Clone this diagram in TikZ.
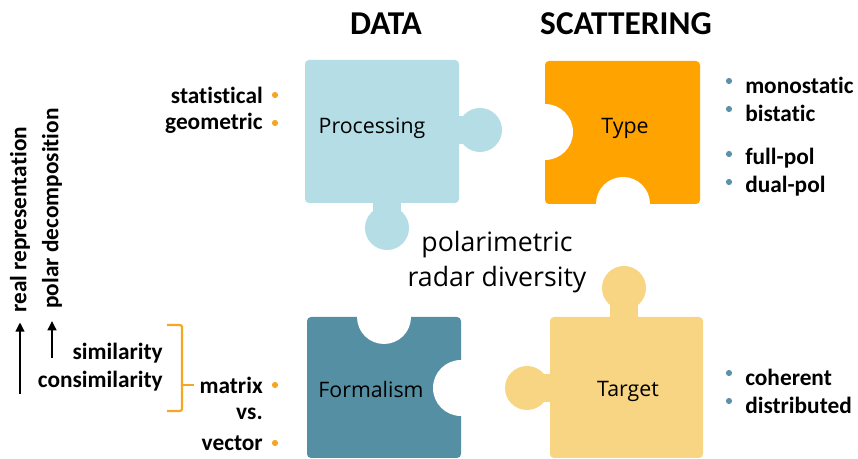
\documentclass[tikz,border=0pt]{standalone}
\usepackage{fontspec}
\setmainfont{Carlito}[Ligatures=NoCommon]
\newfontfamily\segoe{Open Sans}
\usepackage{xcolor}
\usetikzlibrary{arrows.meta}
\definecolor{procblue}{HTML}{B4DDE5}
\definecolor{typeorange}{HTML}{FFA300}
\definecolor{formteal}{HTML}{558FA3}
\definecolor{targetyellow}{HTML}{F7D582}
\definecolor{dotorange}{HTML}{F5A623}
\definecolor{dotteal}{HTML}{5A93A8}
\tikzset{
  lab/.style={font=\bfseries\fontsize{17.5}{20}\selectfont,inner sep=0pt},
  piecelab/.style={font=\segoe\fontsize{16}{19}\selectfont,inner sep=0pt},
  head/.style={font=\bfseries\fontsize{25}{29}\selectfont,inner sep=0pt},
  uparrow/.style={line width=2pt,-{Triangle[length=7pt,width=6.5pt]}},
  brack/.style={draw=dotorange,line width=1.6pt,rounded corners=1.5pt}
}

\begin{document}
\begin{tikzpicture}[x=0.75pt,y=-0.75pt]
\useasboundingbox (0,0) rectangle (858,459);
\fill[procblue,rounded corners=3pt] (305,60) rectangle (459,203);
\foreach \cx/\cy in {480/130,387/228} {\fill[procblue] (\cx,\cy) circle[radius=22];}
\fill[procblue] (452,116) rectangle (470,144);
\fill[procblue] (373,198) rectangle (401,215);
\fill[typeorange,rounded corners=3pt] (545,61) rectangle (700,204);
\fill[white] (545,132) circle[radius=28];
\fill[white] (623,204) circle[radius=27];
\fill[formteal,rounded corners=3pt] (307,317) rectangle (461,458);
\fill[white] (384,317) circle[radius=27];
\fill[white] (461,388) circle[radius=28];
\fill[targetyellow,rounded corners=3pt] (550,317) rectangle (703,458);
\foreach \cx/\cy in {624/288,527/388} {\fill[targetyellow] (\cx,\cy) circle[radius=22];}
\fill[targetyellow] (610,300) rectangle (638,322);
\fill[targetyellow] (535,374) rectangle (555,402);
\node[piecelab] (proc) at (372,128) {Processing};
\node[piecelab] (type) at (625,128) {Type};
\node[piecelab] (form) at (371,390) {Formalism};
\node[piecelab] (target) at (628,391) {Target};
\node[head] (data) at (386,24) {DATA};
\node[head] (scat) at (626,24) {SCATTERING};
\node[font=\segoe\fontsize{20}{26}\selectfont,align=center,inner sep=0pt] (div) at (497,262) {polarimetric\\radar diversity};
\foreach \nm/\y/\txt in {stat/95/statistical,geom/123/geometric,matrix/385/matrix,vector/443/vector} {
  \node[lab,anchor=east] (\nm) at (263,\y) {\txt};
  \fill[dotorange] ([xshift=9pt]\nm.east) circle[radius=3.1];
}
\node[lab,anchor=east] (vs) at (263,414) {vs.};
\foreach \nm/\y/\txt in {mono/85/monostatic,bi/113/bistatic,full/158/full-pol,dual/186/dual-pol,coh/377/coherent,dist/405/distributed} {
  \node[lab,anchor=west] (\nm) at (745,\y) {\txt};
  \fill[dotteal] ([xshift=-12pt,yshift=3pt]\nm.west) circle[radius=3.1];
}
\node[lab,anchor=east] (sim) at (163,353) {similarity};
\node[lab,anchor=east] (consim) at (163,381) {consimilarity};
\node[lab,rotate=90,anchor=west] (realrep) at (20,313) {real representation};
\node[lab,rotate=90,anchor=west] (polardec) at (52,309) {polar decomposition};
\coordinate (realfoot) at (20,394);
\coordinate (polarfoot) at (52,358);
\draw[uparrow] (realfoot) -- ([yshift=-7pt]realrep.west);
\draw[uparrow] (polarfoot) -- ([yshift=-9pt]polardec.west);
\draw[brack] (167,325) -- (182,325) -- (182,411) -- (167,411);
\draw[brack] (182,385) -- (matrix.west -| 194,385);
\end{tikzpicture}
\end{document}
